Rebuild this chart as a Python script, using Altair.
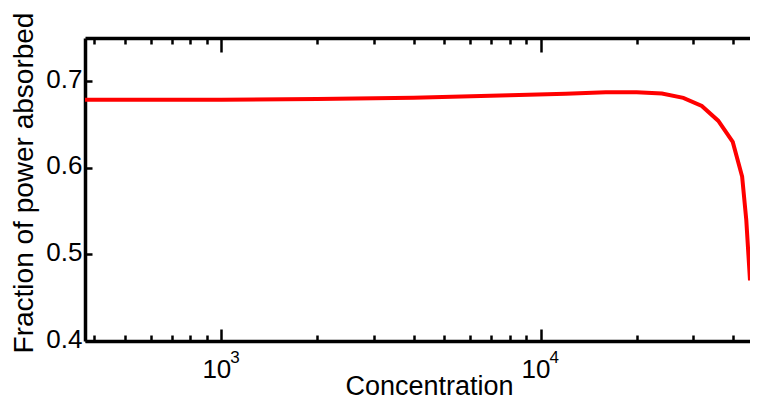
import altair as alt
import pandas as pd

# data
conc = [374, 1000, 2000, 4000, 8000, 12000, 16000, 20000, 24000, 28000,
        32000, 36000, 40000, 42800, 44100, 45300]
frac = [0.6786, 0.6788, 0.6796, 0.681, 0.6838, 0.6855, 0.6873, 0.6872,
        0.6858, 0.6808, 0.6715, 0.6545, 0.630, 0.590, 0.540, 0.470]

x_tick_values = [400, 500, 600, 700, 800, 900, 1000,
                 2000, 3000, 4000, 5000, 6000, 7000, 8000, 9000, 10000,
                 20000, 30000, 40000]
major_values = [1000, 10000]
exponents = ["3", "4"]
y_tick_values = [0.4, 0.5, 0.6, 0.7]

x_domain = [374, 45300]
y_domain = [0.4, 0.75]

df = pd.DataFrame({"conc": conc, "frac": frac})
df_exp = pd.DataFrame({"conc": major_values, "exp": exponents})

FONT = "Liberation Sans"
W, H = 665, 303

major_test = "datum.value == 1000 || datum.value == 10000"

x_scale = alt.Scale(type="log", domain=x_domain, nice=False)
y_scale = alt.Scale(domain=y_domain, nice=False, zero=False)

line = alt.Chart(df).mark_line(color="#ff0000", strokeWidth=4, clip=True).encode(
    x=alt.X("conc:Q", scale=x_scale,
            axis=alt.Axis(orient="bottom", values=x_tick_values, grid=False,
                          labelExpr=f"{major_test} ? '10' : ''",
                          labelFont=FONT, labelFontSize=26, labelColor="black",
                          labelOffset=-5, labelPadding=27,
                          tickSize={"condition": {"test": major_test, "value": -12}, "value": -6},
                          tickWidth=2.5, tickColor="black",
                          domainColor="black", domainWidth=3.5,
                          title="Concentration", titleFont=FONT, titleFontSize=27,
                          titleFontWeight="normal", titleColor="black",
                          titleX=344, titleY=53, titleBaseline="alphabetic",
                          titleAlign="center")),
    y=alt.Y("frac:Q", scale=y_scale,
            axis=alt.Axis(orient="left", values=y_tick_values, format=".1f", grid=False,
                          labelFont=FONT, labelFontSize=26, labelColor="black",
                          labelPadding=10, labelOffset=-2,
                          tickSize={"expr": "-7"}, tickWidth=2.5, tickColor="black",
                          domainColor="black", domainWidth=3.5,
                          title="Fraction of power absorbed", titleFont=FONT,
                          titleFontSize=28, titleFontWeight="normal", titleColor="black",
                          titleAngle=-90, titleX=-53, titleY=144.5,
                          titleBaseline="alphabetic", titleAlign="center")),
)

top = alt.Chart(df).mark_point(opacity=0).encode(
    x=alt.X("conc:Q", scale=x_scale,
            axis=alt.Axis(orient="top", values=x_tick_values, grid=False, labels=False,
                          tickSize={"condition": {"test": major_test, "value": -14}, "value": -6},
                          tickWidth=2.5, tickColor="black",
                          domainColor="black", domainWidth=3.5, title=None)),
)

exp_text = alt.Chart(df_exp).mark_text(
    font=FONT, fontSize=17, align="left", baseline="alphabetic", dx=9, color="black"
).encode(
    x=alt.X("conc:Q", scale=x_scale, axis=None),
    y=alt.value(325),
    text="exp:N",
)

chart = alt.layer(line, top, exp_text).resolve_axis(x="independent").properties(
    width=W, height=H,
    autosize=alt.AutoSizeParams(type="none"),
    padding={"left": 77, "top": 30, "right": 0, "bottom": 54},
).configure_view(stroke=None)

chart.save("out.html", embed_options={"renderer": "svg", "actions": False})
